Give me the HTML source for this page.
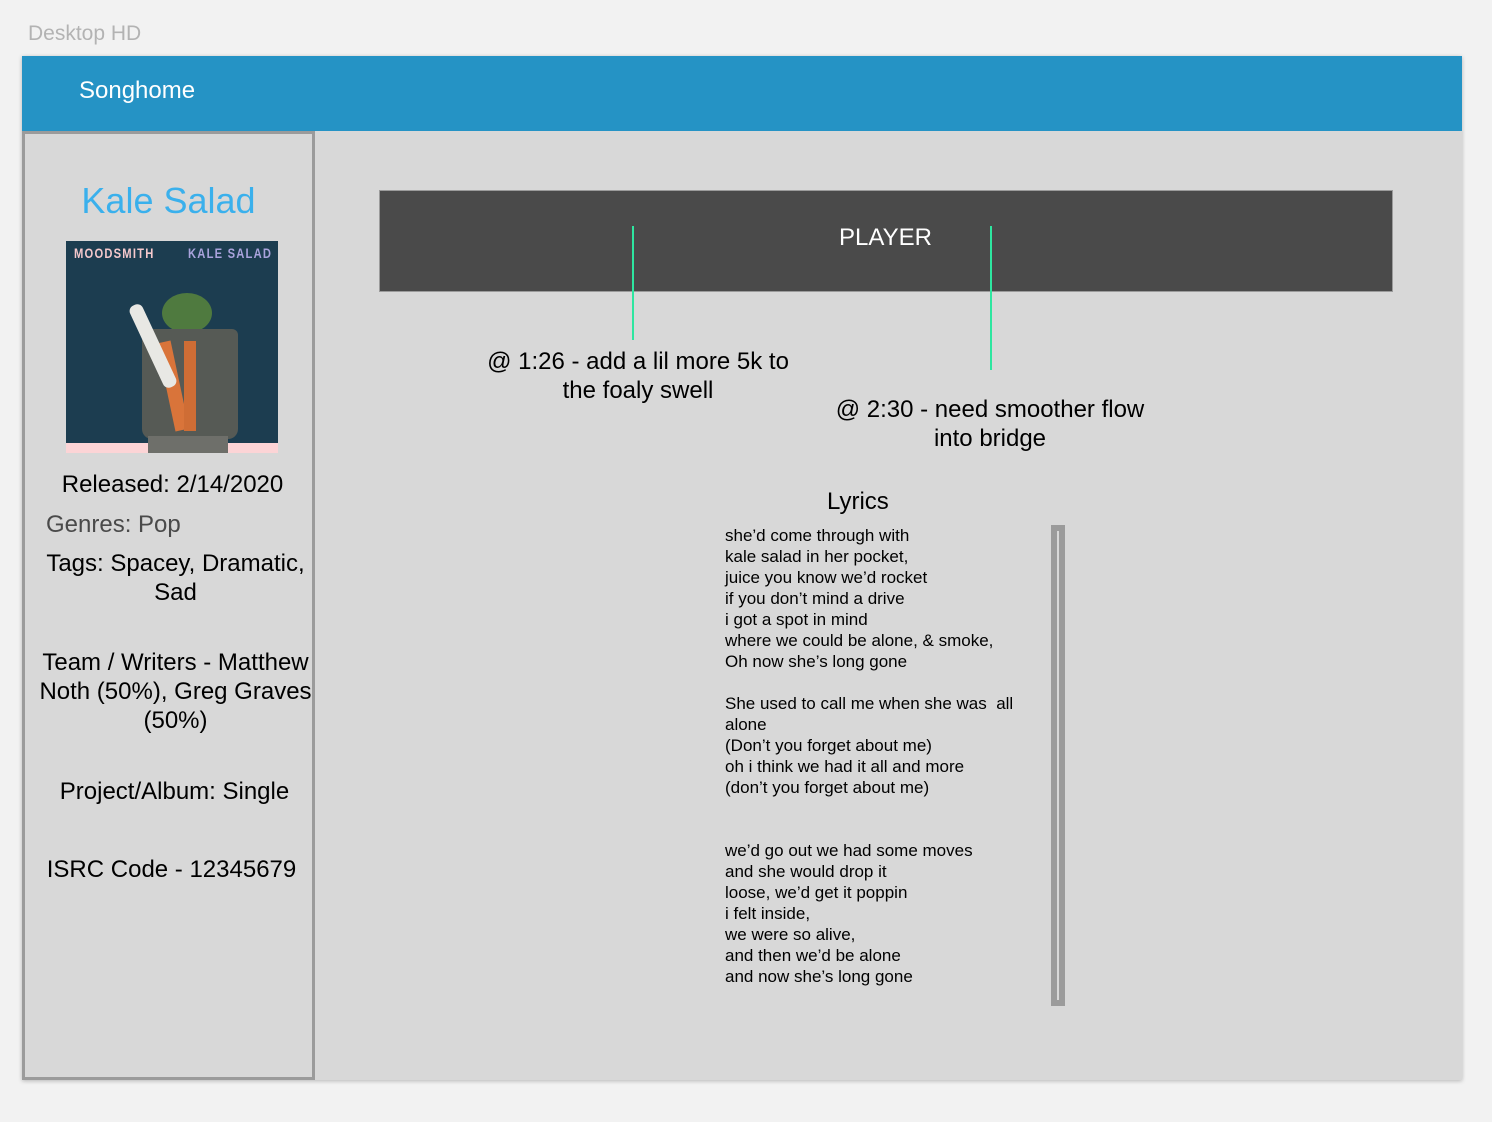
<!DOCTYPE html>
<html><head><meta charset="utf-8"><style>
body{margin:0;width:1492px;height:1122px;background:#f2f2f2;position:relative;overflow:hidden;font-family:"Liberation Sans",Arial,sans-serif;}
.a{position:absolute;white-space:nowrap}
.c{text-align:center}
</style></head><body>
<div class="a" style="left:28px;top:22px;font-size:21px;color:#b3b3b3">Desktop HD</div>
<div class="a" style="left:22px;top:56px;width:1440px;height:1024px;background:#d8d8d8;box-shadow:0 1px 4px rgba(0,0,0,0.25)"></div>
<div class="a" style="left:22px;top:56px;width:1440px;height:75px;background:#2593c5"></div>
<div class="a" style="left:79px;top:77px;font-size:24px;color:#fff">Songhome</div>
<div class="a" style="left:22px;top:131px;width:287px;height:943px;border:3px solid #9b9b9b;background:#d8d8d8"></div>
<div class="a c" style="left:22px;width:293px;top:180px;font-size:36px;color:#3ab0ec">Kale Salad</div>
<div class="a" style="left:66px;top:241px;width:212px;height:212px;background:#1c3d50;overflow:hidden">
<div class="a" style="left:0;top:202px;width:212px;height:10px;background:#fcd4d6"></div>
<div class="a" style="left:8px;top:4px;font-size:14px;color:#f4c8cc;letter-spacing:1.5px;font-weight:bold;transform:scaleX(0.8);transform-origin:left">MOODSMITH</div>
<div class="a" style="left:122px;top:4px;font-size:14px;color:#a9a3dc;letter-spacing:1.5px;font-weight:bold;transform:scaleX(0.8);transform-origin:left">KALE SALAD</div>
<div class="a" style="left:96px;top:52px;width:50px;height:40px;border-radius:50%;background:#4f7a3f"></div>
<div class="a" style="left:76px;top:88px;width:96px;height:110px;background:#565a55;border-radius:6px 6px 10px 10px"></div>
<div class="a" style="left:100px;top:100px;width:14px;height:90px;background:#d9743a;transform:rotate(-12deg)"></div>
<div class="a" style="left:118px;top:100px;width:12px;height:90px;background:#cf6d35"></div>
<div class="a" style="left:80px;top:60px;width:14px;height:90px;background:#e8e8e4;transform:rotate(-25deg);border-radius:6px"></div>
<div class="a" style="left:82px;top:195px;width:80px;height:17px;background:#6e6f6a"></div>
</div>
<div class="a c" style="left:22px;width:301px;top:471px;font-size:24px;color:#000">Released: 2/14/2020</div>
<div class="a" style="left:46px;top:511px;font-size:24px;color:#4a4a4a">Genres: Pop</div>
<div class="a c" style="left:22px;width:307px;top:549px;font-size:24px;line-height:29px;color:#000">Tags: Spacey, Dramatic,<br>Sad</div>
<div class="a c" style="left:22px;width:307px;top:648px;font-size:24px;line-height:29px;color:#000">Team / Writers - Matthew<br>Noth (50%), Greg Graves<br>(50%)</div>
<div class="a c" style="left:22px;width:305px;top:778px;font-size:24px;color:#000">Project/Album: Single</div>
<div class="a c" style="left:22px;width:299px;top:856px;font-size:24px;color:#000">ISRC Code - 12345679</div>
<div class="a" style="left:379px;top:190px;width:1012px;height:100px;background:#4a4a4a;border:1px solid #9b9b9b"></div>
<div class="a" style="left:839px;top:224px;font-size:24px;color:#fff">PLAYER</div>
<div class="a" style="left:632px;top:226px;width:2px;height:114px;background:#2ee6a0"></div>
<div class="a" style="left:990px;top:226px;width:2px;height:144px;background:#2ee6a0"></div>
<div class="a c" style="left:438px;width:400px;top:347px;font-size:24px;line-height:29px;color:#000">@ 1:26 - add a lil more 5k to<br>the foaly swell</div>
<div class="a c" style="left:790px;width:400px;top:395px;font-size:24px;line-height:29px;color:#000">@ 2:30 - need smoother flow<br>into bridge</div>
<div class="a" style="left:827px;top:488px;font-size:24px;color:#000">Lyrics</div>
<div class="a" style="left:725px;top:525px;font-size:17px;line-height:21px;color:#000">she’d come through with<br>kale salad in her pocket,<br>juice you know we’d rocket<br>if you don’t mind a drive<br>i got a spot in mind<br>where we could be alone, &amp; smoke,<br>Oh now she’s long gone<br><br>She used to call me when she was&nbsp; all<br>alone<br>(Don’t you forget about me)<br>oh i think we had it all and more<br>(don’t you forget about me)<br><br><br>we’d go out we had some moves<br>and she would drop it<br>loose, we’d get it poppin<br>i felt inside,<br>we were so alive,<br>and then we’d be alone<br>and now she’s long gone</div>
<div class="a" style="left:1051px;top:525px;width:14px;height:481px;background:#9b9b9b"></div>
<div class="a" style="left:1057px;top:531px;width:2px;height:469px;background:#d8d8d8"></div>
</body></html>
